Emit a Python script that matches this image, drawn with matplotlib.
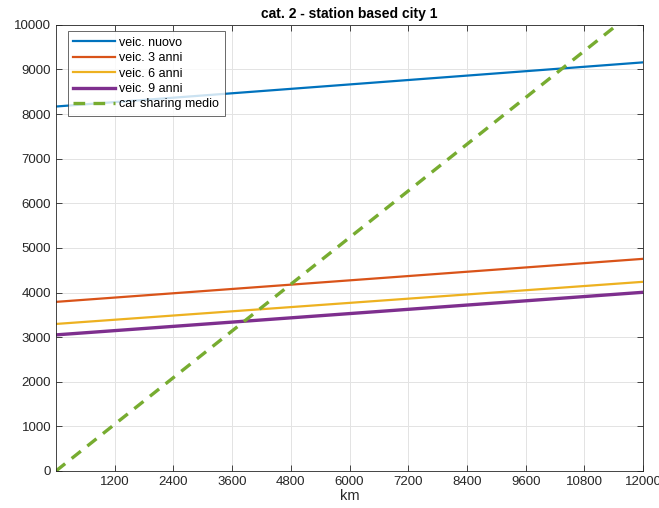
import matplotlib
matplotlib.use('Agg')
import matplotlib.pyplot as plt

plt.rcParams['font.family'] = ['Liberation Sans', 'DejaVu Sans']

# dati
km = [0, 12000]
veic_nuovo = [8170, 9160]
veic_3_anni = [3790, 4755]
veic_6_anni = [3295, 4240]
veic_9_anni = [3050, 4005]
car_sharing = [0, 10465]

x_ticks = list(range(1200, 12001, 1200))
y_ticks = list(range(0, 10001, 1000))

fig = plt.figure(figsize=(6.59, 5.08), dpi=100)
ax = fig.add_axes([0.085, 0.073, 0.891, 0.878])

ax.plot(km, veic_nuovo, color=(0, 0.447, 0.741), lw=1.6, label='veic. nuovo')
ax.plot(km, veic_3_anni, color=(0.85, 0.325, 0.098), lw=1.6, label='veic. 3 anni')
ax.plot(km, veic_6_anni, color=(0.929, 0.694, 0.125), lw=1.6, label='veic. 6 anni')
ax.plot(km, veic_9_anni, color=(0.494, 0.184, 0.556), lw=2.4, label='veic. 9 anni')
ax.plot(km, car_sharing, color=(0.466, 0.674, 0.188), lw=2.4, ls=(0, (3.5, 2.5)),
        label='car sharing medio')

ax.set_xlim(0, 12000)
ax.set_ylim(0, 10000)
ax.set_xticks(x_ticks)
ax.set_yticks(y_ticks)
ax.tick_params(direction='in', top=True, right=True, labelsize=9.5,
               colors='#262626', length=4, width=0.6)
ax.grid(True, color='#e3e3e3', lw=0.7)
ax.set_axisbelow(True)
for s in ax.spines.values():
    s.set_color('#262626')
    s.set_linewidth(0.6)

ax.set_xlabel('km', fontsize=10.5, color='#262626', labelpad=1)
ax.set_title('cat. 2 - station based city 1', fontsize=10, fontweight='bold', pad=5)

leg = ax.legend(loc='upper left', bbox_to_anchor=(0.02, 0.986), fontsize=9,
                frameon=True, fancybox=False, borderpad=0.45, labelspacing=0.27,
                handlelength=3.3, handletextpad=0.35, borderaxespad=0)
leg.get_frame().set_edgecolor('#262626')
leg.get_frame().set_linewidth(0.6)

fig.savefig('out.png', dpi=100)
